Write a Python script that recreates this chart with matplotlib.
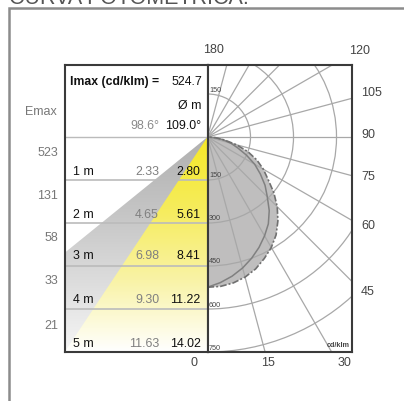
import numpy as np
import matplotlib
matplotlib.use("Agg")
import matplotlib.pyplot as plt
from matplotlib.colors import LinearSegmentedColormap
from matplotlib.patches import Polygon, Circle

plt.rcParams["font.family"] = ["Liberation Sans", "DejaVu Sans"]

# photometric curves, cd/klm every 5 degrees from straight down
gamma = [0, 5, 10, 15, 20, 25, 30, 35, 40, 45, 50, 55, 60, 65, 70, 75, 80, 85, 90]
curve_dashed = [524, 523, 517, 506, 490, 468, 445, 417, 382, 344, 302, 258, 225, 190, 150, 105, 60, 28, 0]
curve_solid = [524, 510, 493, 473, 450, 425, 398, 370, 335, 295, 262, 225, 190, 150, 113, 85, 55, 28, 0]
rings = [150, 300, 450, 600, 750]
spokes = [15, 30, 45, 60, 75, 90, 105, 120, 135, 150, 165]

# table
distance = [1, 2, 3, 4, 5]
emax = [523, 131, 58, 33, 21]
dia_grey = ["2.33", "4.65", "6.98", "9.30", "11.63"]
dia_black = ["2.80", "5.61", "8.41", "11.22", "14.02"]
grey_slope = 5.2  # how far the grey cone opens per metre

# outer labels around the panel
angle_labels = ["180", "120", "105", "90", "75", "60", "45", "30", "15", "0"]
angle_x = [214, 360, 372, 368, 368, 368, 368, 344, 268, 194]
angle_y = [50, 51, 93, 135, 177, 226, 292, 363, 363, 363]
emax_y = [153.5, 196, 238, 281, 326]
row_y = [172, 215, 256.5, 300, 344]
ring_label_y = [176, 219, 262, 305.5, 348.5]

W, H = 404, 402
fig = plt.figure(figsize=(W / 100, H / 100), dpi=100)


def box(x0, y0, x1, y1):
    return [x0 / W, 1 - y1 / H, (x1 - x0) / W, (y1 - y0) / H]


# page layer in pixels: title, grey frame, outside labels
bg = fig.add_axes([0, 0, 1, 1])
bg.set_xlim(0, W)
bg.set_ylim(H, 0)
bg.axis("off")
bg.plot([9, 9, W], [H, 9, 9], color="#8c8c8c", lw=1.8, solid_joinstyle="miter")
bg.text(9, 3.5, "CURVA FOTOMETRICA:", fontsize=15.5, color="#555555", va="baseline", ha="left")
for lab, x, y in zip(angle_labels, angle_x, angle_y):
    bg.text(x, y, lab, fontsize=9, color="#444444", ha="center", va="center")
bg.text(57, 112, "Emax", fontsize=9, color="#777777", ha="right", va="center")
for val, y in zip(emax, emax_y):
    bg.text(58, y, str(val), fontsize=9, color="#777777", ha="right", va="center")

# left panel: metres across and down
left = fig.add_axes(box(64.5, 66, 207.5, 353))
y_top = -(138 - 66) / 43
left.set_xticks([])
left.set_yticks([])

grad = np.linspace(0, 1, 256).reshape(-1, 1)
grey_cmap = LinearSegmentedColormap.from_list("g", ["#b0b0b0", "#c4c4c4", "#dcdcdc", "#f6f6f6"])
yellow_cmap = LinearSegmentedColormap.from_list("y", ["#f5e827", "#f6ec5c", "#f9f3a6", "#ffffff"])

cones = [(grey_cmap, grey_slope), (yellow_cmap, float(dia_black[0]))]
for cmap, slope in cones:
    im = left.imshow(grad, cmap=cmap, extent=(-14.02, 0, 5, 0), aspect="auto", zorder=1)
    tri = Polygon([(0, 0), (-slope * 5, 5), (0, 5)], transform=left.transData)
    im.set_clip_path(tri)
left.set_xlim(-14.02, 0)
left.set_ylim(5, y_top)

left.axhline(0, color="#bbbbbb", lw=1, zorder=2)
for d in distance[:-1]:
    left.axhline(d, color="#bbbbbb", lw=1.2, zorder=2)

# right panel: cd/klm on both axes
px_per_cd = 0.2867
right = fig.add_axes(box(207.5, 66, 352, 353))
right.set_xticks([])
right.set_yticks([])

g = np.radians(gamma)
dashed = np.array(curve_dashed)
solid = np.array(curve_solid)
right.fill(dashed * np.sin(g), -dashed * np.cos(g), color="#bfbebe", lw=0, zorder=1)
for r in rings:
    right.add_patch(Circle((0, 0), r, fill=False, ec="#a8a8a8", lw=0.9, zorder=2))
for a in spokes:
    t = np.radians(a)
    right.plot([0, 1500 * np.sin(t)], [0, -1500 * np.cos(t)], color="#a8a8a8", lw=0.9, zorder=2)
right.plot(solid * np.sin(g), -solid * np.cos(g), color="#808080", lw=1.1, zorder=3)
right.plot(dashed * np.sin(g), -dashed * np.cos(g), color="#707070", lw=1.2,
           ls=(0, (4, 1.2, 1.2, 1.2)), zorder=3)
right.set_xlim(0, 144.5 / px_per_cd)
right.set_ylim(-215 / px_per_cd, 72 / px_per_cd)

for ax in (left, right):
    for s in ax.spines.values():
        s.set_color("#3a3a3a")
        s.set_linewidth(1.5)
        s.set_zorder(6)

# text layer on top of both panels
top = fig.add_axes([0, 0, 1, 1], facecolor="none")
top.set_xlim(0, W)
top.set_ylim(H, 0)
top.axis("off")


def txt(x, y, s, **kw):
    opts = dict(fontsize=8.9, va="center", zorder=10)
    opts.update(kw)
    top.text(x, y, s, **opts)


txt(70, 82, "Imax (cd/klm) =", fontweight="bold", color="#111111", fontsize=8.8)
txt(202, 82, "524.7", ha="right", color="#111111")
txt(201, 106, "Ø m", ha="right", color="#111111")
txt(159, 126, "98.6°", ha="right", color="#8a8a8a")
txt(201, 126, "109.0°", ha="right", color="#111111")
for d, y, a, b in zip(distance, row_y, dia_grey, dia_black):
    txt(73, y, f"{d} m", color="#111111")
    txt(159, y, a, ha="right", color="#808080")
    txt(200.5, y, b, ha="right", color="#111111")

for r, y in zip(rings, ring_label_y):
    txt(209, y, str(r), fontsize=5.2, color="#444444", ha="left")
txt(209, 91, str(rings[0]), fontsize=5.2, color="#444444", ha="left")
txt(349.5, 345.5, "cd/klm", fontsize=5.2, color="#444444", ha="right", fontweight="bold")

fig.savefig("out.png", dpi=100)
